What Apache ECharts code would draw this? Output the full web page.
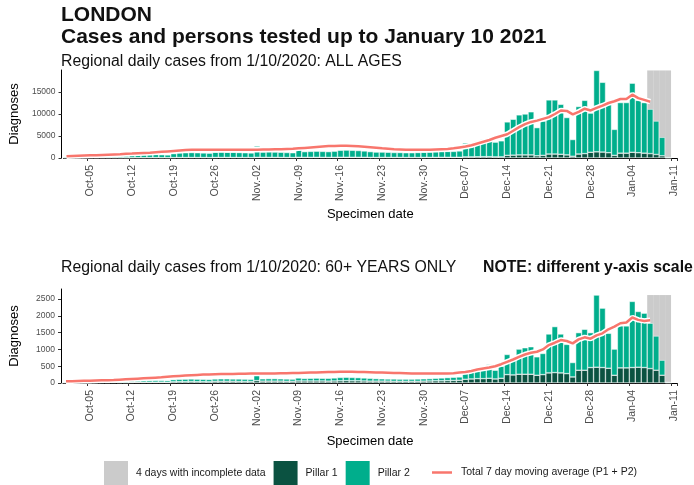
<!DOCTYPE html>
<html>
<head>
<meta charset="utf-8">
<script src="https://cdn.jsdelivr.net/npm/echarts@6/dist/echarts.min.js"></script>
<style>
  html, body { margin: 0; padding: 0; background: #fff; }
  #chart { width: 694px; height: 485px; }
</style>
</head>
<body>
<div id="chart"></div>
<script>
/* ===== Data: London, 1 Oct 2020 – 10 Jan 2021 ===== */
const MONTHS = ['Oct', 'Nov.', 'Dec', 'Jan']
const MONTH_DAYS = [31, 30, 31, 11]
// category labels, one per day (Oct-01 .. Jan-11)
const categories = []
MONTHS.forEach((m, k) => {
    for (let d = 1; d <= MONTH_DAYS[k]; d++) categories.push(m + '-' + String(d).padStart(2, '0'))
})

const incompleteDays = ['Jan-07', 'Jan-08', 'Jan-09', 'Jan-10']

// ALL AGES
const pillar1All = [
    40, 40, 40, 40, 50, 50, 60, 60, 60, 50, 50,
    60, 70, 70, 80, 80, 70, 70,
    90, 100, 100, 110, 100, 100, 90,
    120, 120, 120, 110, 110, 100, 100,
    150, 130, 130, 130, 120, 110, 110,
    150, 140, 140, 150, 140, 130, 140,
    160, 160, 160, 150, 150, 130, 120,
    130, 120, 120, 120, 110, 110, 110,
    130, 130, 140, 150, 150, 150, 160,
    250, 250, 280, 300, 300, 250, 250,
    600, 650, 700, 700, 700, 500, 600,
    900, 900, 850, 700, 400, 900, 1000,
    1300, 1400, 1350, 1200, 600, 1100, 1100,
    1300, 1200, 1100, 1000, 800, 500, 30, null
]
const pillar2All = [
    210, 260, 260, 260, 300, 400, 440, 440, 490, 450, 400,
    540, 630, 680, 720, 720, 680, 630,
    910, 1050, 1100, 1140, 1100, 1050, 1010,
    1180, 1230, 1180, 1190, 1140, 1100, 1050,
    2550, 1220, 1270, 1220, 1180, 1140, 1090,
    2450, 1310, 1360, 1400, 1360, 1320, 1410,
    1590, 1640, 1590, 1550, 1450, 1320, 1230,
    1220, 1180, 1130, 1130, 1090, 1090, 1140,
    1170, 1220, 1260, 1300, 1350, 1350, 1440,
    3150, 2650, 3520, 3900, 4200, 3350, 3650,
    7600, 8150, 9100, 9300, 9800, 6400, 7800,
    12300, 12300, 11350, 8500, 3800, 10800, 12100,
    8900, 18500, 15850, 11300, 5900, 11500, 11500,
    15700, 11900, 11500, 10100, 7600, 4200, 170, null
]
const avgAll = [
    400, 450, 500, 550, 600, 650, 700,
    750, 800, 850, 950, 1000, 1100, 1150,
    1200, 1300, 1400, 1500, 1600, 1700, 1800,
    1850, 1900, 1900, 1900, 1900, 1900, 1900,
    1900, 1900, 1900, 1900, 1900, 1950, 1950,
    2000, 2000, 2050, 2100, 2200, 2300, 2400,
    2500, 2600, 2700, 2750, 2800, 2800, 2750,
    2650, 2550, 2450, 2350, 2200, 2100, 2000,
    1950, 1900, 1900, 1900, 1900, 1900, 1950,
    2000, 2050, 2200, 2400, 2600, 2900, 3300,
    3700, 4100, 4600, 5000, 5400, 6200, 7000,
    7700, 8200, 8500, 8900, 9300, 10000, 10800,
    10700, 9900, 10500, 11200, 10800, 11400, 11900,
    12500, 12900, 13400, 13400, 14400, 13600, 13200,
    12800, null, null, null, null
]

// 60+ YEARS ONLY
const pillar160 = [
    10, 10, 10, 10, 15, 15, 15, 15, 20, 15, 15,
    20, 25, 25, 25, 25, 25, 20,
    35, 40, 40, 45, 40, 40, 35,
    50, 50, 50, 50, 45, 45, 45,
    70, 55, 55, 55, 55, 50, 50,
    60, 60, 60, 60, 60, 55, 60,
    65, 70, 65, 65, 60, 55, 55,
    55, 55, 50, 50, 50, 50, 50,
    55, 60, 65, 65, 70, 75, 80,
    110, 120, 130, 130, 140, 120, 140,
    250, 240, 260, 260, 260, 230, 250,
    300, 310, 300, 280, 180, 380, 380,
    460, 470, 460, 440, 230, 450, 450,
    460, 470, 460, 430, 380, 230, 10, null
]
const pillar260 = [
    20, 25, 25, 30, 30, 35, 40, 40, 40, 40, 35,
    45, 45, 50, 55, 55, 50, 50,
    65, 70, 75, 75, 75, 70, 70,
    70, 75, 75, 70, 75, 70, 65,
    280, 70, 75, 75, 70, 70, 65,
    90, 75, 80, 85, 80, 85, 90,
    100, 100, 100, 95, 90, 85, 75,
    70, 65, 70, 65, 65, 65, 70,
    70, 70, 75, 85, 90, 95, 100,
    190, 230, 320, 320, 410, 260, 360,
    600, 470, 750, 790, 820, 550, 630,
    1160, 1370, 1160, 870, 430, 1120, 1220,
    1040, 2150, 1770, 1040, 780, 1250, 1250,
    1970, 1660, 1620, 1350, 1020, 450, 20, null
]
const avg60 = [
    50, 55, 60, 65, 70, 75, 80,
    85, 90, 100, 110, 120, 130, 140,
    150, 160, 170, 185, 200, 210, 220,
    230, 240, 250, 255, 260, 265, 270,
    270, 275, 275, 280, 280, 280, 285,
    285, 290, 290, 295, 300, 305, 310,
    315, 320, 325, 330, 335, 335, 335,
    330, 325, 320, 315, 310, 305, 300,
    295, 290, 285, 280, 280, 280, 280,
    280, 280, 290, 310, 330, 360, 400,
    430, 460, 500, 560, 630, 700, 780,
    850, 900, 930, 1000, 1130, 1200, 1280,
    1250, 1180, 1300, 1360, 1320, 1420, 1480,
    1600, 1680, 1780, 1800, 1950, 1880, 1850,
    1870, null, null, null, null
]

// y-axis setup per panel
const yMaxAll = 20000
const yTicksAll = [0, 5000, 10000, 15000]
const greyTopAll = 19900
const yMax60 = 2800
const yTicks60 = [0, 500, 1000, 1500, 2000, 2500]
const greyTop60 = 2620

/* ===== Styling ===== */
const FONT = "'Liberation Sans', Arial, sans-serif"
const C_P1 = '#0b5241'
const C_P2 = '#00ae8c'
const C_GREY = '#cbcbcb'
const C_AVG = '#f8766d'
const AVG_NAME = 'Total 7 day moving average (P1 + P2)'
const GREY_NAME = '4 days with incomplete data'

const isMonday = idx => (idx - 4) % 7 === 0

const greyData = top => categories.map(c => (incompleteDays.includes(c) ? top : null))

const makeX = (gridIndex, nameGap) => ({
    type: 'category',
    gridIndex,
    data: categories,
    boundaryGap: true,
    axisLine: { show: true, lineStyle: { color: '#000', width: 1 } },
    axisTick: { show: true, interval: isMonday, length: 3, lineStyle: { color: '#333' } },
    axisLabel: { interval: isMonday, rotate: 90, fontSize: 10.5, color: '#4d4d4d', margin: 7, fontFamily: FONT },
    splitLine: { show: false },
    name: 'Specimen date',
    nameLocation: 'middle',
    nameGap,
    nameTextStyle: { fontSize: 13, color: '#000', fontFamily: FONT }
})

const makeY = (gridIndex, max, ticks) => ({
    type: 'value',
    gridIndex,
    min: 0,
    max,
    offset: 2,
    axisLine: { show: true, lineStyle: { color: '#000', width: 1 } },
    axisTick: { show: true, length: 3, customValues: ticks, lineStyle: { color: '#333' } },
    axisLabel: { customValues: ticks, formatter: v => String(v), fontSize: 8.5, color: '#4d4d4d', margin: 6, fontFamily: FONT },
    splitLine: { show: false },
    name: 'Diagnoses',
    nameLocation: 'middle',
    nameGap: 40,
    nameTextStyle: { fontSize: 13, color: '#000', fontFamily: FONT }
})

const makeSeries = (idx, p1, p2, avg, greyTop) => {
    const bar = { type: 'bar', xAxisIndex: idx, yAxisIndex: idx, barGap: '-100%', barCategoryGap: '0%' }
    return [
        { ...bar, name: GREY_NAME, data: greyData(greyTop), itemStyle: { color: C_GREY } },
        { ...bar, name: 'Pillar 1', stack: 's' + idx, data: p1,
          itemStyle: { color: C_P1, borderColor: '#fff', borderWidth: 0.5 } },
        { ...bar, name: 'Pillar 2', stack: 's' + idx, data: p2,
          itemStyle: { color: C_P2, borderColor: '#fff', borderWidth: 0.5 } },
        // white halo under the average line
        { type: 'line', name: 'halo' + idx, xAxisIndex: idx, yAxisIndex: idx, data: avg,
          symbol: 'none', silent: true, lineStyle: { color: '#fff', width: 5.5 }, z: 3 },
        { type: 'line', name: AVG_NAME, xAxisIndex: idx, yAxisIndex: idx, data: avg,
          symbol: 'none', itemStyle: { color: C_AVG }, lineStyle: { color: C_AVG, width: 2.5 }, z: 4 }
    ]
}

const chart = echarts.init(document.getElementById('chart'), null, { renderer: 'canvas' })

chart.setOption({
    animation: false,
    textStyle: { fontFamily: FONT },
    title: [
        { text: 'LONDON', left: 61, top: 5, padding: 0, textStyle: { fontSize: 21, fontWeight: 'bold', color: '#111' } },
        { text: 'Cases and persons tested up to January 10 2021', left: 61, top: 27, padding: 0,
          textStyle: { fontSize: 21, fontWeight: 'bold', color: '#111' } },
        { text: 'Regional daily cases from 1/10/2020: ALL AGES', left: 61, top: 54, padding: 0,
          textStyle: { fontSize: 15.8, fontWeight: 'normal', color: '#111' } },
        { text: 'Regional daily cases from 1/10/2020: 60+ YEARS ONLY', left: 61, top: 260, padding: 0,
          textStyle: { fontSize: 15.8, fontWeight: 'normal', color: '#111' } },
        { text: 'NOTE: different y-axis scale', left: 483, top: 260, padding: 0,
          textStyle: { fontSize: 15.8, fontWeight: 'bold', color: '#111' } }
    ],
    legend: [
        {
            data: [GREY_NAME, 'Pillar 1', 'Pillar 2'],
            left: 104, top: 461, padding: 0,
            icon: 'rect', itemWidth: 24, itemHeight: 24, itemGap: 8,
            itemStyle: { borderWidth: 0 },
            textStyle: { fontSize: 10.5, color: '#1a1a1a', padding: [0, 0, 0, 3] }
        },
        {
            data: [AVG_NAME],
            left: 432, top: 467, padding: 0,
            icon: 'rect', itemWidth: 20, itemHeight: 2.5,
            textStyle: { fontSize: 10.5, color: '#1a1a1a', padding: [0, 0, 0, 4] }
        }
    ],
    grid: [
        { left: 63, width: 614, top: 70, height: 88 },
        { left: 63, width: 614, top: 289, height: 94 }
    ],
    xAxis: [makeX(0, 50), makeX(1, 52)],
    yAxis: [makeY(0, yMaxAll, yTicksAll), makeY(1, yMax60, yTicks60)],
    series: [
        ...makeSeries(0, pillar1All, pillar2All, avgAll, greyTopAll),
        ...makeSeries(1, pillar160, pillar260, avg60, greyTop60)
    ]
})
</script>
</body>
</html>
